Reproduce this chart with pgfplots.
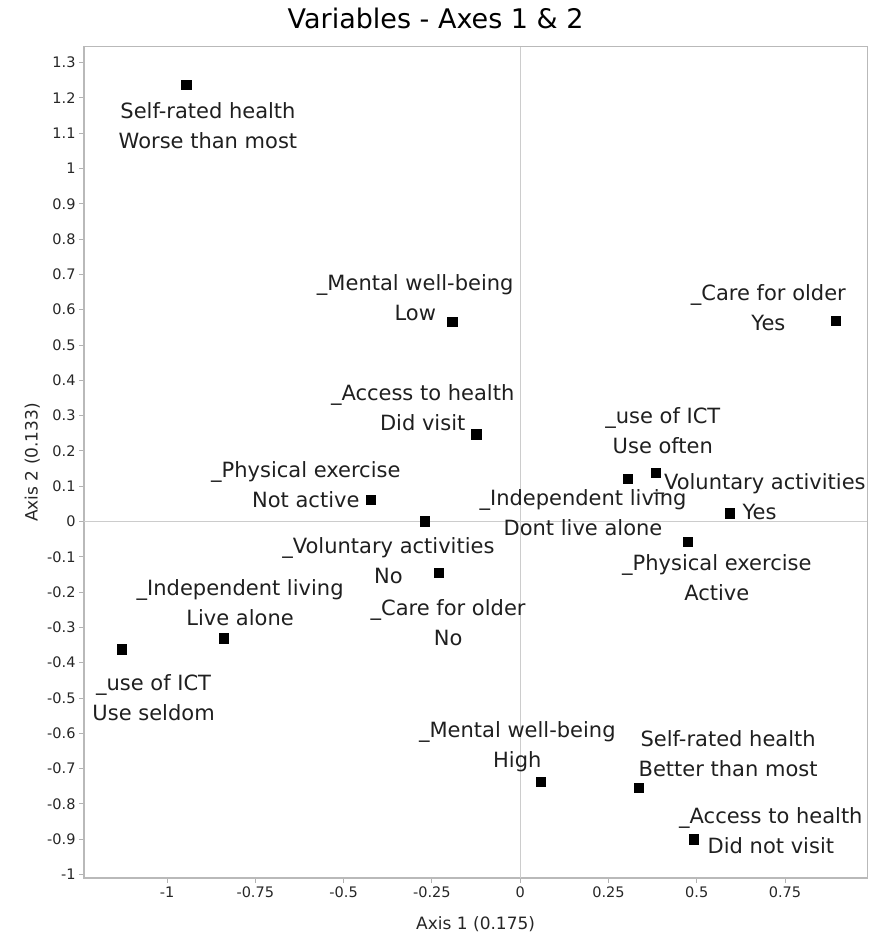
\documentclass[border=0pt]{standalone}
\usepackage{pgfplots}
\pgfplotsset{compat=1.18}
\usepackage{fontspec}
\setmainfont{DejaVu Sans}

\tikzset{lbl/.style={align=center, inner sep=0pt, text=black!88,
    font=\fontsize{21bp}{30bp}\selectfont}}

\begin{document}
\begin{tikzpicture}
  \begin{axis}[
      name=ax,
      width=783bp, height=831bp, scale only axis,
      xmin=-1.235, xmax=0.983,
      ymin=-1.01, ymax=1.345,
      axis line style={gray!55, line width=1.3bp},
      tick align=outside, major tick length=5bp,
      tick style={gray!60, line width=0.8bp},
      xtick={-1,-0.75,-0.5,-0.25,0,0.25,0.5,0.75},
      ytick={-1,-0.9,-0.8,-0.7,-0.6,-0.5,-0.4,-0.3,-0.2,-0.1,0,
             0.1,0.2,0.3,0.4,0.5,0.6,0.7,0.8,0.9,1,1.1,1.2,1.3},
      xtick pos=bottom, ytick pos=left,
      extra x ticks={0}, extra y ticks={0},
      extra x tick labels={}, extra y tick labels={},
      extra tick style={grid=major, major tick length=0pt,
        major grid style={gray!40, line width=1bp}},
      ticklabel style={font=\fontsize{14.5bp}{17bp}\selectfont, text=black!85},
      /pgf/number format/.cd, fixed, precision=2, assume math mode=true,
      /pgfplots/.cd,
      title={Variables - Axes 1 \& 2},
      title style={font=\fontsize{27bp}{32bp}\selectfont,
        at={(0.5,1)}, anchor=center, yshift=22bp, xshift=-40bp},
      xlabel={Axis 1 (0.175)}, ylabel={Axis 2 (0.133)},
      label style={font=\fontsize{17bp}{20bp}\selectfont, text=black!85},
      xlabel style={at={(axis description cs:0.5,-0.056)}, anchor=center},
      ylabel style={at={(axis description cs:-0.066,0.5)}, anchor=center},
      clip=false,
    ]
    \addplot[only marks, mark=square*, mark size=4.7bp, black] coordinates {
      (-0.946, 1.237)  % self-rated health: worse
      (-0.192, 0.566)  % mental well-being: low
      (-0.125, 0.247)  % access to health: did visit
      ( 0.894, 0.569)  % care for older: yes
      ( 0.304, 0.121)
      ( 0.383, 0.138)
      ( 0.593, 0.023)
      ( 0.474,-0.058)
      (-0.423, 0.062)
      (-0.271, 0.001)
      (-0.230,-0.145)
      (-0.839,-0.331)
      (-1.129,-0.362)
      ( 0.059,-0.738)
      ( 0.335,-0.754)
      ( 0.491,-0.900)
    };

    \node[lbl] at (axis cs:-0.884, 1.121) {Self-rated health\\Worse than most};
    \node[lbl] at (axis cs:-0.297, 0.633) {\_Mental well-being\\Low};
    \node[lbl] at (axis cs:-0.276, 0.323) {\_Access to health\\Did visit};
    \node[lbl] at (axis cs: 0.703, 0.606) {\_Care for older\\Yes};
    \node[lbl] at (axis cs: 0.404, 0.257) {\_use of ICT\\Use often};
    \node[lbl] at (axis cs: 0.678, 0.071) {\_Voluntary activities\\Yes};
    \node[lbl] at (axis cs: 0.178, 0.025) {\_Independent living\\Dont live alone};
    \node[lbl] at (axis cs: 0.557,-0.159) {\_Physical exercise\\Active};
    \node[lbl] at (axis cs:-0.607, 0.105) {\_Physical exercise\\Not active};
    \node[lbl] at (axis cs:-0.373,-0.112) {\_Voluntary activities\\No};
    \node[lbl] at (axis cs:-0.204,-0.288) {\_Care for older\\No};
    \node[lbl] at (axis cs:-0.793,-0.230) {\_Independent living\\Live alone};
    \node[lbl] at (axis cs:-1.038,-0.500) {\_use of ICT\\Use seldom};
    \node[lbl] at (axis cs:-0.008,-0.639) {\_Mental well-being\\High};
    \node[lbl] at (axis cs: 0.589,-0.658) {Self-rated health\\Better than most};
    \node[lbl] at (axis cs: 0.710,-0.877) {\_Access to health\\Did not visit};
  \end{axis}
  \path ([xshift=-84bp, yshift=-62bp]ax.south west)
    rectangle ([xshift=3bp, yshift=46.7bp]ax.north east);
\end{tikzpicture}
\end{document}
